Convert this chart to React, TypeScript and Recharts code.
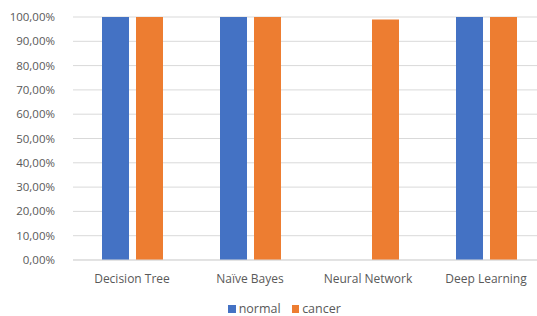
import React from 'react';
import { BarChart, Bar, XAxis, YAxis, CartesianGrid, Legend } from 'recharts';

const categories = ['Decision Tree', 'Naïve Bayes', 'Neural Network', 'Deep Learning'];
const normalValues = [1.0, 1.0, 0, 1.0];
const cancerValues = [1.0, 1.0, 0.99, 1.0];
const yTicks = [0, 0.1, 0.2, 0.3, 0.4, 0.5, 0.6, 0.7, 0.8, 0.9, 1.0];
const seriesNames = ['normal', 'cancer'];
const seriesColors = ['#4472C4', '#ED7D31'];

const data = categories.map((c, i) => ({ name: c, normal: normalValues[i], cancer: cancerValues[i] }));

const fmt = (v: number) => (v * 100).toFixed(2).replace('.', ',') + '%';
const font = 'Open Sans, sans-serif';
const textColor = '#595959';

const LegendContent = () => (
  <div style={{ display: 'flex', justifyContent: 'center', paddingTop: 17, paddingLeft: 24, fontFamily: font, fontSize: 12.5, color: textColor, lineHeight: '16px' }}>
    {seriesNames.map((n, i) => (
      <div key={n} style={{ display: 'flex', alignItems: 'center', marginRight: i === 0 ? 11 : 0 }}>
        <span style={{ display: 'inline-block', width: 7.5, height: 7.5, background: seriesColors[i], marginRight: 3 }} />
        <span>{n}</span>
      </div>
    ))}
  </div>
);

export default function App() {
  return (
    <div style={{ position: 'absolute', left: 0, top: 0, width: 537, height: 316, overflow: 'hidden', background: '#fff' }}>
      <BarChart
        width={545}
        height={316}
        data={data}
        margin={{ top: 17, right: 0, bottom: 0, left: 0 }}
        barSize={27}
        barGap={7}
      >
        <CartesianGrid vertical={false} stroke="#d9d9d9" />
        <XAxis
          dataKey="name"
          tickLine={false}
          axisLine={{ stroke: '#d9d9d9' }}
          tick={{ fill: textColor, fontSize: 12, fontFamily: font }}
          tickMargin={8}
          height={24}
        />
        <YAxis
          domain={[0, 1]}
          ticks={yTicks}
          tickFormatter={fmt}
          axisLine={false}
          tickLine={false}
          width={73}
          tick={{ fill: textColor, fontSize: 11.5, fontFamily: font }}
          tickMargin={12}
          interval={0}
        />
        <Legend verticalAlign="bottom" height={32} content={<LegendContent />} />
        <Bar dataKey="normal" name="normal" fill={seriesColors[0]} isAnimationActive={false} />
        <Bar dataKey="cancer" name="cancer" fill={seriesColors[1]} isAnimationActive={false} />
      </BarChart>
    </div>
  );
}
